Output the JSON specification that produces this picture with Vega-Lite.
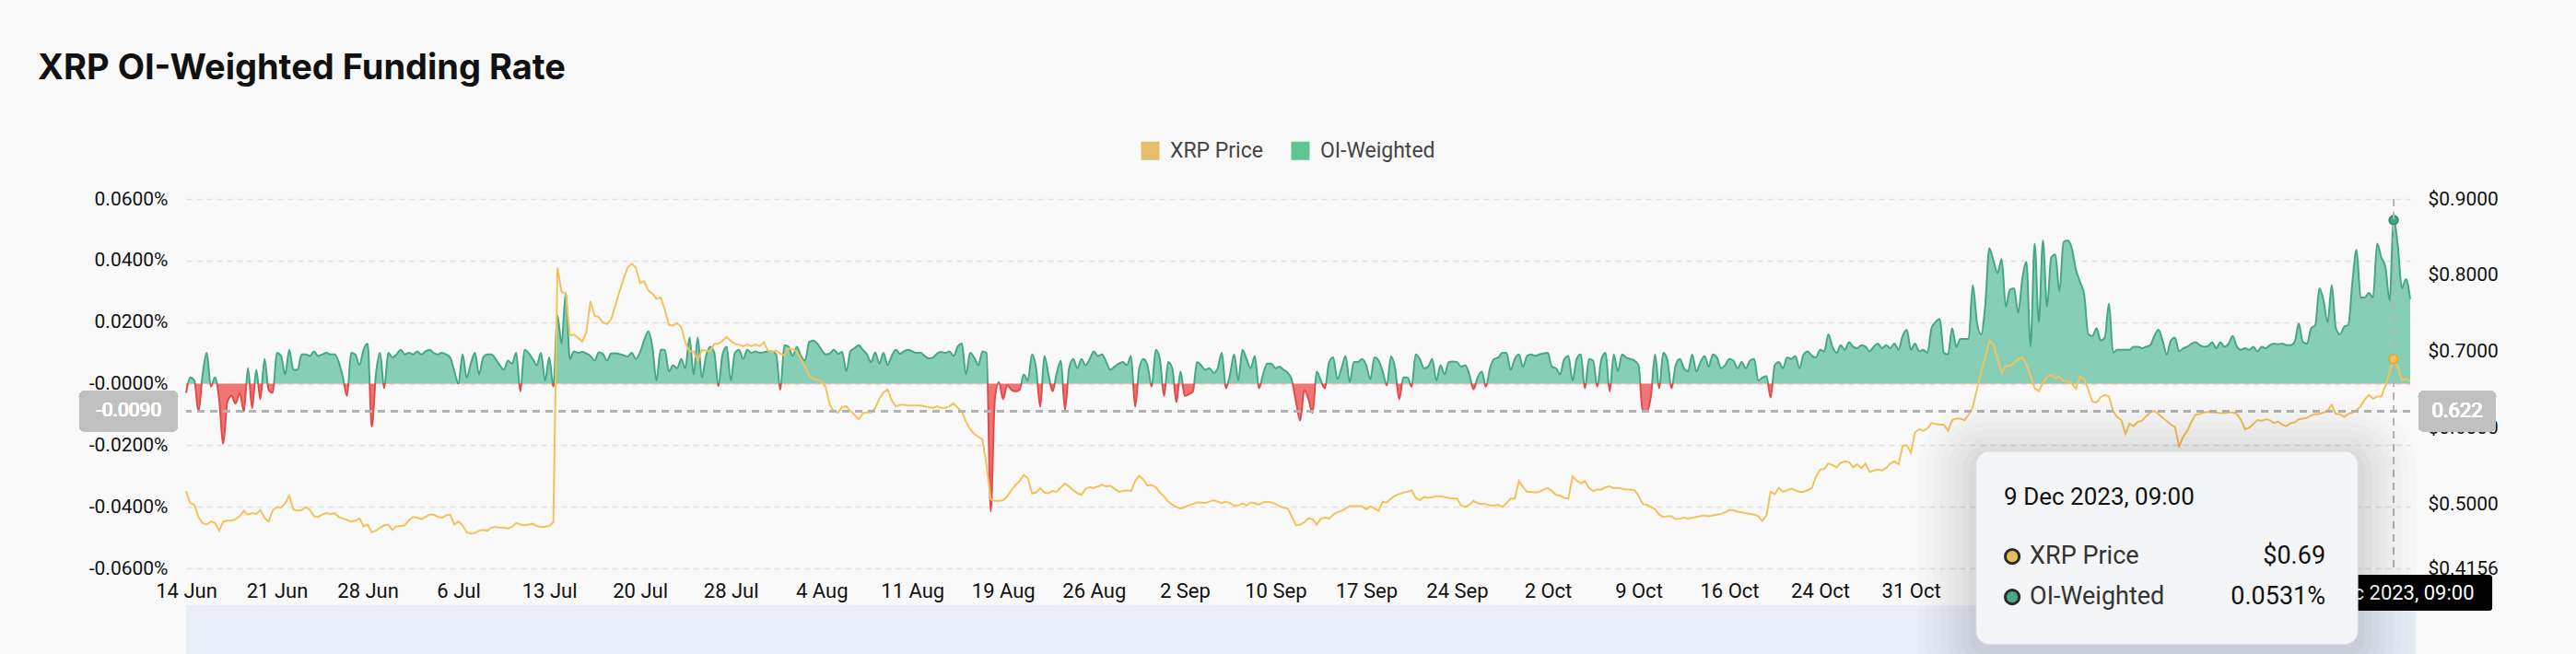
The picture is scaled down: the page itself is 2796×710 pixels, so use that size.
{
  "$schema": "https://vega.github.io/schema/vega-lite/v6.json",
  "width": 2414,
  "height": 401,
  "autosize": {"type": "none"},
  "padding": {"left": 202, "top": 216, "right": 180, "bottom": 93},
  "background": "#f9f9f9",
  "config": {"view": {"stroke": null}, "font": "Roboto"},
  "title": {"text": "XRP OI-Weighted Funding Rate", "anchor": "start", "frame": "group", "dx": -161, "offset": 58, "font": "Inter", "fontSize": 38, "fontWeight": 700, "color": "#111111"},
  "data": {
    "format": {"parse": {"t": "date"}},
    "values": [
      {"t":"2023-06-14T01:00","f":-0.003,"p":0.517},{"t":"2023-06-14T09:00","f":0.002,"p":0.501},{"t":"2023-06-14T17:00","f":0.001,"p":0.499},
      {"t":"2023-06-15T01:00","f":-0.009,"p":0.483},{"t":"2023-06-15T09:00","f":0.003,"p":0.475},{"t":"2023-06-15T17:00","f":0.010,"p":0.473},
      {"t":"2023-06-16T01:00","f":-0.001,"p":0.477},{"t":"2023-06-16T09:00","f":0.002,"p":0.475},{"t":"2023-06-16T17:00","f":-0.005,"p":0.465},
      {"t":"2023-06-17T01:00","f":-0.0195,"p":0.477},{"t":"2023-06-17T09:00","f":-0.006,"p":0.478},{"t":"2023-06-17T17:00","f":-0.004,"p":0.478},
      {"t":"2023-06-18T01:00","f":-0.0065,"p":0.480},{"t":"2023-06-18T09:00","f":-0.003,"p":0.484},{"t":"2023-06-18T17:00","f":-0.009,"p":0.491},
      {"t":"2023-06-19T01:00","f":0.005,"p":0.486},{"t":"2023-06-19T09:00","f":-0.008,"p":0.488},{"t":"2023-06-19T17:00","f":0.0045,"p":0.487},
      {"t":"2023-06-20T01:00","f":-0.005,"p":0.492},{"t":"2023-06-20T09:00","f":0.008,"p":0.482},{"t":"2023-06-20T17:00","f":-0.002,"p":0.477},
      {"t":"2023-06-21T01:00","f":-0.003,"p":0.492},{"t":"2023-06-21T09:00","f":0.010,"p":0.496},{"t":"2023-06-21T17:00","f":0.009,"p":0.495},
      {"t":"2023-06-22T01:00","f":0.003,"p":0.501},{"t":"2023-06-22T09:00","f":0.011,"p":0.511},{"t":"2023-06-22T17:00","f":0.0045,"p":0.493},
      {"t":"2023-06-23T01:00","f":0.0045,"p":0.491},{"t":"2023-06-23T09:00","f":0.0095,"p":0.492},{"t":"2023-06-23T17:00","f":0.0095,"p":0.496},
      {"t":"2023-06-24T01:00","f":0.009,"p":0.492},{"t":"2023-06-24T09:00","f":0.0105,"p":0.484},{"t":"2023-06-24T17:00","f":0.009,"p":0.483},
      {"t":"2023-06-25T01:00","f":0.0095,"p":0.486},{"t":"2023-06-25T09:00","f":0.010,"p":0.488},{"t":"2023-06-25T17:00","f":0.0095,"p":0.487},
      {"t":"2023-06-26T01:00","f":0.0095,"p":0.488},{"t":"2023-06-26T09:00","f":0.007,"p":0.483},{"t":"2023-06-26T17:00","f":0.002,"p":0.481},
      {"t":"2023-06-27T01:00","f":-0.004,"p":0.479},{"t":"2023-06-27T09:00","f":0.010,"p":0.477},{"t":"2023-06-27T17:00","f":0.0095,"p":0.478},
      {"t":"2023-06-28T01:00","f":0.006,"p":0.481},{"t":"2023-06-28T09:00","f":0.011,"p":0.471},{"t":"2023-06-28T17:00","f":0.013,"p":0.473},
      {"t":"2023-06-29T01:00","f":-0.014,"p":0.463},{"t":"2023-06-29T09:00","f":0.003,"p":0.465},{"t":"2023-06-29T17:00","f":0.010,"p":0.469},
      {"t":"2023-06-30T01:00","f":-0.0015,"p":0.472},{"t":"2023-06-30T09:00","f":0.010,"p":0.473},{"t":"2023-06-30T17:00","f":0.0085,"p":0.466},
      {"t":"2023-07-01T01:00","f":0.0095,"p":0.471},{"t":"2023-07-01T09:00","f":0.011,"p":0.471},{"t":"2023-07-01T17:00","f":0.0095,"p":0.472},
      {"t":"2023-07-02T01:00","f":0.010,"p":0.479},{"t":"2023-07-02T09:00","f":0.0095,"p":0.483},{"t":"2023-07-02T17:00","f":0.0105,"p":0.482},
      {"t":"2023-07-03T01:00","f":0.0095,"p":0.480},{"t":"2023-07-03T09:00","f":0.0105,"p":0.483},{"t":"2023-07-03T17:00","f":0.011,"p":0.486},
      {"t":"2023-07-04T01:00","f":0.010,"p":0.486},{"t":"2023-07-04T09:00","f":0.0095,"p":0.483},{"t":"2023-07-04T17:00","f":0.010,"p":0.482},
      {"t":"2023-07-05T01:00","f":0.0095,"p":0.485},{"t":"2023-07-05T09:00","f":0.0085,"p":0.486},{"t":"2023-07-05T17:00","f":0.004,"p":0.473},
      {"t":"2023-07-06T01:00","f":0.0,"p":0.477},{"t":"2023-07-06T09:00","f":0.0095,"p":0.472},{"t":"2023-07-06T17:00","f":0.002,"p":0.463},
      {"t":"2023-07-07T01:00","f":0.0065,"p":0.461},{"t":"2023-07-07T09:00","f":0.010,"p":0.462},{"t":"2023-07-07T17:00","f":0.003,"p":0.465},
      {"t":"2023-07-08T01:00","f":0.0085,"p":0.466},{"t":"2023-07-08T09:00","f":0.0095,"p":0.465},{"t":"2023-07-08T17:00","f":0.0095,"p":0.469},
      {"t":"2023-07-09T01:00","f":0.008,"p":0.470},{"t":"2023-07-09T09:00","f":0.006,"p":0.469},{"t":"2023-07-09T17:00","f":0.0045,"p":0.469},
      {"t":"2023-07-10T01:00","f":0.0075,"p":0.468},{"t":"2023-07-10T09:00","f":0.0065,"p":0.470},{"t":"2023-07-10T17:00","f":0.010,"p":0.475},
      {"t":"2023-07-11T01:00","f":-0.0025,"p":0.473},{"t":"2023-07-11T09:00","f":0.011,"p":0.472},{"t":"2023-07-11T17:00","f":0.010,"p":0.473},
      {"t":"2023-07-12T01:00","f":0.008,"p":0.474},{"t":"2023-07-12T09:00","f":0.006,"p":0.471},{"t":"2023-07-12T17:00","f":0.010,"p":0.470},
      {"t":"2023-07-13T01:00","f":0.001,"p":0.470},{"t":"2023-07-13T09:00","f":0.0085,"p":0.471},{"t":"2023-07-13T17:00","f":-0.001,"p":0.476},
      {"t":"2023-07-14T01:00","f":0.022,"p":0.810},{"t":"2023-07-14T09:00","f":0.013,"p":0.778},{"t":"2023-07-14T17:00","f":0.0295,"p":0.776},
      {"t":"2023-07-15T01:00","f":0.008,"p":0.721},{"t":"2023-07-15T09:00","f":0.0105,"p":0.722},{"t":"2023-07-15T17:00","f":0.010,"p":0.718},
      {"t":"2023-07-16T01:00","f":0.0103,"p":0.713},{"t":"2023-07-16T09:00","f":0.0098,"p":0.725},{"t":"2023-07-16T17:00","f":0.009,"p":0.766},
      {"t":"2023-07-17T01:00","f":0.0075,"p":0.747},{"t":"2023-07-17T09:00","f":0.0102,"p":0.745},{"t":"2023-07-17T17:00","f":0.0097,"p":0.738},
      {"t":"2023-07-18T01:00","f":0.0075,"p":0.736},{"t":"2023-07-18T09:00","f":0.0098,"p":0.742},{"t":"2023-07-18T17:00","f":0.0099,"p":0.760},
      {"t":"2023-07-19T01:00","f":0.0096,"p":0.778},{"t":"2023-07-19T09:00","f":0.0092,"p":0.795},{"t":"2023-07-19T17:00","f":0.0088,"p":0.810},
      {"t":"2023-07-20T01:00","f":0.010,"p":0.815},{"t":"2023-07-20T09:00","f":0.008,"p":0.810},{"t":"2023-07-20T17:00","f":0.0102,"p":0.790},
      {"t":"2023-07-21T01:00","f":0.014,"p":0.792},{"t":"2023-07-21T09:00","f":0.017,"p":0.780},{"t":"2023-07-21T17:00","f":0.012,"p":0.776},
      {"t":"2023-07-22T01:00","f":0.001,"p":0.769},{"t":"2023-07-22T09:00","f":0.011,"p":0.771},{"t":"2023-07-22T17:00","f":0.011,"p":0.755},
      {"t":"2023-07-23T01:00","f":0.004,"p":0.735},{"t":"2023-07-23T09:00","f":0.006,"p":0.734},{"t":"2023-07-23T17:00","f":0.005,"p":0.737},
      {"t":"2023-07-24T01:00","f":0.008,"p":0.732},{"t":"2023-07-24T09:00","f":0.005,"p":0.712},{"t":"2023-07-24T17:00","f":0.015,"p":0.700},
      {"t":"2023-07-25T01:00","f":0.003,"p":0.700},{"t":"2023-07-25T09:00","f":0.015,"p":0.688},{"t":"2023-07-25T17:00","f":0.002,"p":0.702},
      {"t":"2023-07-26T01:00","f":0.009,"p":0.701},{"t":"2023-07-26T09:00","f":0.012,"p":0.700},{"t":"2023-07-26T17:00","f":0.010,"p":0.710},
      {"t":"2023-07-27T01:00","f":-0.0008,"p":0.710},{"t":"2023-07-27T09:00","f":0.0095,"p":0.714},{"t":"2023-07-27T17:00","f":0.012,"p":0.719},
      {"t":"2023-07-28T01:00","f":0.001,"p":0.714},{"t":"2023-07-28T09:00","f":0.010,"p":0.710},{"t":"2023-07-28T17:00","f":0.011,"p":0.709},
      {"t":"2023-07-29T01:00","f":0.008,"p":0.707},{"t":"2023-07-29T09:00","f":0.011,"p":0.709},{"t":"2023-07-29T17:00","f":0.010,"p":0.707},
      {"t":"2023-07-30T01:00","f":0.0105,"p":0.709},{"t":"2023-07-30T09:00","f":0.010,"p":0.707},{"t":"2023-07-30T17:00","f":0.0102,"p":0.712},
      {"t":"2023-07-31T01:00","f":0.0105,"p":0.701},{"t":"2023-07-31T09:00","f":0.0105,"p":0.699},{"t":"2023-07-31T17:00","f":0.0095,"p":0.701},
      {"t":"2023-08-01T01:00","f":-0.002,"p":0.697},{"t":"2023-08-01T09:00","f":0.0125,"p":0.695},{"t":"2023-08-01T17:00","f":0.012,"p":0.704},
      {"t":"2023-08-02T01:00","f":0.009,"p":0.703},{"t":"2023-08-02T09:00","f":0.012,"p":0.700},{"t":"2023-08-02T17:00","f":0.009,"p":0.690},
      {"t":"2023-08-03T01:00","f":0.0075,"p":0.680},{"t":"2023-08-03T09:00","f":0.0135,"p":0.668},{"t":"2023-08-03T17:00","f":0.014,"p":0.664},
      {"t":"2023-08-04T01:00","f":0.013,"p":0.663},{"t":"2023-08-04T09:00","f":0.011,"p":0.661},{"t":"2023-08-04T17:00","f":0.0095,"p":0.653},
      {"t":"2023-08-05T01:00","f":0.0098,"p":0.630},{"t":"2023-08-05T09:00","f":0.011,"p":0.621},{"t":"2023-08-05T17:00","f":0.0097,"p":0.620},
      {"t":"2023-08-06T01:00","f":0.0103,"p":0.627},{"t":"2023-08-06T09:00","f":0.004,"p":0.628},{"t":"2023-08-06T17:00","f":0.0105,"p":0.622},
      {"t":"2023-08-07T01:00","f":0.0115,"p":0.617},{"t":"2023-08-07T09:00","f":0.0125,"p":0.611},{"t":"2023-08-07T17:00","f":0.011,"p":0.619},
      {"t":"2023-08-08T01:00","f":0.0095,"p":0.620},{"t":"2023-08-08T09:00","f":0.007,"p":0.620},{"t":"2023-08-08T17:00","f":0.0102,"p":0.626},
      {"t":"2023-08-09T01:00","f":0.0065,"p":0.638},{"t":"2023-08-09T09:00","f":0.010,"p":0.646},{"t":"2023-08-09T17:00","f":0.006,"p":0.650},
      {"t":"2023-08-10T01:00","f":0.009,"p":0.636},{"t":"2023-08-10T09:00","f":0.011,"p":0.628},{"t":"2023-08-10T17:00","f":0.0097,"p":0.630},
      {"t":"2023-08-11T01:00","f":0.0105,"p":0.630},{"t":"2023-08-11T09:00","f":0.011,"p":0.629},{"t":"2023-08-11T17:00","f":0.0105,"p":0.629},
      {"t":"2023-08-12T01:00","f":0.010,"p":0.629},{"t":"2023-08-12T09:00","f":0.010,"p":0.629},{"t":"2023-08-12T17:00","f":0.009,"p":0.628},
      {"t":"2023-08-13T01:00","f":0.0082,"p":0.627},{"t":"2023-08-13T09:00","f":0.0085,"p":0.626},{"t":"2023-08-13T17:00","f":0.0098,"p":0.628},
      {"t":"2023-08-14T01:00","f":0.0103,"p":0.626},{"t":"2023-08-14T09:00","f":0.010,"p":0.626},{"t":"2023-08-14T17:00","f":0.0105,"p":0.628},
      {"t":"2023-08-15T01:00","f":0.009,"p":0.632},{"t":"2023-08-15T09:00","f":0.012,"p":0.626},{"t":"2023-08-15T17:00","f":0.013,"p":0.621},
      {"t":"2023-08-16T01:00","f":0.003,"p":0.608},{"t":"2023-08-16T09:00","f":0.010,"p":0.598},{"t":"2023-08-16T17:00","f":0.0085,"p":0.592},
      {"t":"2023-08-17T01:00","f":0.006,"p":0.588},{"t":"2023-08-17T09:00","f":0.0105,"p":0.585},{"t":"2023-08-17T17:00","f":0.010,"p":0.550},
      {"t":"2023-08-18T01:00","f":-0.0415,"p":0.506},{"t":"2023-08-18T09:00","f":-0.005,"p":0.504},{"t":"2023-08-18T17:00","f":0.0005,"p":0.504},
      {"t":"2023-08-19T01:00","f":-0.005,"p":0.505},{"t":"2023-08-19T09:00","f":-0.0005,"p":0.510},{"t":"2023-08-19T17:00","f":-0.002,"p":0.518},
      {"t":"2023-08-20T01:00","f":-0.0025,"p":0.525},{"t":"2023-08-20T09:00","f":-0.002,"p":0.530},{"t":"2023-08-20T17:00","f":0.003,"p":0.538},
      {"t":"2023-08-21T01:00","f":0.001,"p":0.534},{"t":"2023-08-21T09:00","f":0.0095,"p":0.514},{"t":"2023-08-21T17:00","f":0.005,"p":0.515},
      {"t":"2023-08-22T01:00","f":-0.0075,"p":0.521},{"t":"2023-08-22T09:00","f":0.009,"p":0.515},{"t":"2023-08-22T17:00","f":0.003,"p":0.514},
      {"t":"2023-08-23T01:00","f":-0.0025,"p":0.517},{"t":"2023-08-23T09:00","f":0.0035,"p":0.516},{"t":"2023-08-23T17:00","f":0.0075,"p":0.522},
      {"t":"2023-08-24T01:00","f":-0.0085,"p":0.527},{"t":"2023-08-24T09:00","f":0.005,"p":0.523},{"t":"2023-08-24T17:00","f":0.008,"p":0.518},
      {"t":"2023-08-25T01:00","f":0.005,"p":0.514},{"t":"2023-08-25T09:00","f":0.008,"p":0.512},{"t":"2023-08-25T17:00","f":0.006,"p":0.520},
      {"t":"2023-08-26T01:00","f":0.008,"p":0.522},{"t":"2023-08-26T09:00","f":0.0105,"p":0.521},{"t":"2023-08-26T17:00","f":0.009,"p":0.523},
      {"t":"2023-08-27T01:00","f":0.0095,"p":0.525},{"t":"2023-08-27T09:00","f":0.007,"p":0.523},{"t":"2023-08-27T17:00","f":0.0045,"p":0.524},
      {"t":"2023-08-28T01:00","f":0.0055,"p":0.520},{"t":"2023-08-28T09:00","f":0.0065,"p":0.516},{"t":"2023-08-28T17:00","f":0.007,"p":0.517},
      {"t":"2023-08-29T01:00","f":0.006,"p":0.518},{"t":"2023-08-29T09:00","f":0.009,"p":0.517},{"t":"2023-08-29T17:00","f":-0.0075,"p":0.530},
      {"t":"2023-08-30T01:00","f":0.005,"p":0.537},{"t":"2023-08-30T09:00","f":0.008,"p":0.532},{"t":"2023-08-30T17:00","f":0.006,"p":0.524},
      {"t":"2023-08-31T01:00","f":-0.001,"p":0.525},{"t":"2023-08-31T09:00","f":0.011,"p":0.522},{"t":"2023-08-31T17:00","f":0.008,"p":0.515},
      {"t":"2023-09-01T01:00","f":-0.004,"p":0.510},{"t":"2023-09-01T09:00","f":0.007,"p":0.503},{"t":"2023-09-01T17:00","f":0.005,"p":0.499},
      {"t":"2023-09-02T01:00","f":-0.006,"p":0.496},{"t":"2023-09-02T09:00","f":0.004,"p":0.494},{"t":"2023-09-02T17:00","f":-0.004,"p":0.496},
      {"t":"2023-09-03T01:00","f":-0.0035,"p":0.498},{"t":"2023-09-03T09:00","f":-0.0025,"p":0.500},{"t":"2023-09-03T17:00","f":0.007,"p":0.502},
      {"t":"2023-09-04T01:00","f":0.006,"p":0.502},{"t":"2023-09-04T09:00","f":0.0045,"p":0.501},{"t":"2023-09-04T17:00","f":0.005,"p":0.503},
      {"t":"2023-09-05T01:00","f":0.0035,"p":0.505},{"t":"2023-09-05T09:00","f":0.005,"p":0.503},{"t":"2023-09-05T17:00","f":0.010,"p":0.501},
      {"t":"2023-09-06T01:00","f":-0.0015,"p":0.503},{"t":"2023-09-06T09:00","f":0.003,"p":0.501},{"t":"2023-09-06T17:00","f":0.0095,"p":0.498},
      {"t":"2023-09-07T01:00","f":0.001,"p":0.498},{"t":"2023-09-07T09:00","f":0.011,"p":0.501},{"t":"2023-09-07T17:00","f":0.008,"p":0.498},
      {"t":"2023-09-08T01:00","f":0.005,"p":0.502},{"t":"2023-09-08T09:00","f":0.009,"p":0.501},{"t":"2023-09-08T17:00","f":-0.0015,"p":0.499},
      {"t":"2023-09-09T01:00","f":0.003,"p":0.502},{"t":"2023-09-09T09:00","f":0.0065,"p":0.503},{"t":"2023-09-09T17:00","f":0.0065,"p":0.502},
      {"t":"2023-09-10T01:00","f":0.005,"p":0.500},{"t":"2023-09-10T09:00","f":0.0055,"p":0.497},{"t":"2023-09-10T17:00","f":0.0045,"p":0.495},
      {"t":"2023-09-11T01:00","f":0.0035,"p":0.494},{"t":"2023-09-11T09:00","f":0.001,"p":0.483},{"t":"2023-09-11T17:00","f":-0.006,"p":0.472},
      {"t":"2023-09-12T01:00","f":-0.012,"p":0.473},{"t":"2023-09-12T09:00","f":-0.002,"p":0.476},{"t":"2023-09-12T17:00","f":-0.005,"p":0.481},
      {"t":"2023-09-13T01:00","f":-0.0095,"p":0.480},{"t":"2023-09-13T09:00","f":0.004,"p":0.473},{"t":"2023-09-13T17:00","f":0.001,"p":0.481},
      {"t":"2023-09-14T01:00","f":-0.0015,"p":0.482},{"t":"2023-09-14T09:00","f":0.007,"p":0.481},{"t":"2023-09-14T17:00","f":0.0085,"p":0.486},
      {"t":"2023-09-15T01:00","f":0.0015,"p":0.489},{"t":"2023-09-15T09:00","f":0.005,"p":0.491},{"t":"2023-09-15T17:00","f":0.009,"p":0.494},
      {"t":"2023-09-16T01:00","f":0.0005,"p":0.497},{"t":"2023-09-16T09:00","f":0.007,"p":0.497},{"t":"2023-09-16T17:00","f":0.007,"p":0.497},
      {"t":"2023-09-17T01:00","f":0.008,"p":0.497},{"t":"2023-09-17T09:00","f":0.006,"p":0.493},{"t":"2023-09-17T17:00","f":0.0015,"p":0.497},
      {"t":"2023-09-18T01:00","f":0.0085,"p":0.494},{"t":"2023-09-18T09:00","f":0.0075,"p":0.491},{"t":"2023-09-18T17:00","f":0.004,"p":0.503},
      {"t":"2023-09-19T01:00","f":-0.0005,"p":0.502},{"t":"2023-09-19T09:00","f":0.0088,"p":0.507},{"t":"2023-09-19T17:00","f":0.005,"p":0.511},
      {"t":"2023-09-20T01:00","f":-0.005,"p":0.513},{"t":"2023-09-20T09:00","f":0.002,"p":0.515},{"t":"2023-09-20T17:00","f":0.002,"p":0.516},
      {"t":"2023-09-21T01:00","f":-0.001,"p":0.518},{"t":"2023-09-21T09:00","f":0.0095,"p":0.508},{"t":"2023-09-21T17:00","f":0.008,"p":0.505},
      {"t":"2023-09-22T01:00","f":0.005,"p":0.509},{"t":"2023-09-22T09:00","f":0.0055,"p":0.508},{"t":"2023-09-22T17:00","f":0.008,"p":0.509},
      {"t":"2023-09-23T01:00","f":0.001,"p":0.510},{"t":"2023-09-23T09:00","f":0.006,"p":0.510},{"t":"2023-09-23T17:00","f":0.003,"p":0.509},
      {"t":"2023-09-24T01:00","f":0.007,"p":0.508},{"t":"2023-09-24T09:00","f":0.0072,"p":0.507},{"t":"2023-09-24T17:00","f":0.007,"p":0.507},
      {"t":"2023-09-25T01:00","f":0.0055,"p":0.498},{"t":"2023-09-25T09:00","f":0.006,"p":0.496},{"t":"2023-09-25T17:00","f":0.003,"p":0.499},
      {"t":"2023-09-26T01:00","f":-0.0018,"p":0.504},{"t":"2023-09-26T09:00","f":0.002,"p":0.501},{"t":"2023-09-26T17:00","f":0.004,"p":0.500},
      {"t":"2023-09-27T01:00","f":-0.001,"p":0.500},{"t":"2023-09-27T09:00","f":0.005,"p":0.498},{"t":"2023-09-27T17:00","f":0.008,"p":0.498},
      {"t":"2023-09-28T01:00","f":0.0085,"p":0.499},{"t":"2023-09-28T09:00","f":0.010,"p":0.496},{"t":"2023-09-28T17:00","f":0.010,"p":0.501},
      {"t":"2023-09-29T01:00","f":0.0045,"p":0.507},{"t":"2023-09-29T09:00","f":0.008,"p":0.507},{"t":"2023-09-29T17:00","f":0.0095,"p":0.530},
      {"t":"2023-09-30T01:00","f":0.0055,"p":0.522},{"t":"2023-09-30T09:00","f":0.009,"p":0.516},{"t":"2023-09-30T17:00","f":0.0095,"p":0.516},
      {"t":"2023-10-01T01:00","f":0.009,"p":0.515},{"t":"2023-10-01T09:00","f":0.0095,"p":0.516},{"t":"2023-10-01T17:00","f":0.0098,"p":0.519},
      {"t":"2023-10-02T01:00","f":0.010,"p":0.521},{"t":"2023-10-02T09:00","f":0.0055,"p":0.517},{"t":"2023-10-02T17:00","f":0.005,"p":0.512},
      {"t":"2023-10-03T01:00","f":0.003,"p":0.511},{"t":"2023-10-03T09:00","f":0.008,"p":0.508},{"t":"2023-10-03T17:00","f":0.009,"p":0.507},
      {"t":"2023-10-04T01:00","f":0.001,"p":0.536},{"t":"2023-10-04T09:00","f":0.008,"p":0.531},{"t":"2023-10-04T17:00","f":0.0095,"p":0.527},
      {"t":"2023-10-05T01:00","f":-0.0015,"p":0.530},{"t":"2023-10-05T09:00","f":0.008,"p":0.521},{"t":"2023-10-05T17:00","f":0.0075,"p":0.517},
      {"t":"2023-10-06T01:00","f":-0.001,"p":0.519},{"t":"2023-10-06T09:00","f":0.008,"p":0.519},{"t":"2023-10-06T17:00","f":0.010,"p":0.522},
      {"t":"2023-10-07T01:00","f":-0.0025,"p":0.523},{"t":"2023-10-07T09:00","f":0.0095,"p":0.521},{"t":"2023-10-07T17:00","f":0.004,"p":0.521},
      {"t":"2023-10-08T01:00","f":0.0095,"p":0.520},{"t":"2023-10-08T09:00","f":0.0085,"p":0.519},{"t":"2023-10-08T17:00","f":0.008,"p":0.519},
      {"t":"2023-10-09T01:00","f":0.0075,"p":0.518},{"t":"2023-10-09T09:00","f":0.006,"p":0.511},{"t":"2023-10-09T17:00","f":-0.009,"p":0.500},
      {"t":"2023-10-10T01:00","f":-0.009,"p":0.499},{"t":"2023-10-10T09:00","f":-0.004,"p":0.496},{"t":"2023-10-10T17:00","f":0.0095,"p":0.493},
      {"t":"2023-10-11T01:00","f":-0.0015,"p":0.486},{"t":"2023-10-11T09:00","f":0.010,"p":0.483},{"t":"2023-10-11T17:00","f":0.0075,"p":0.484},
      {"t":"2023-10-12T01:00","f":-0.0015,"p":0.484},{"t":"2023-10-12T09:00","f":0.006,"p":0.480},{"t":"2023-10-12T17:00","f":0.008,"p":0.481},
      {"t":"2023-10-13T01:00","f":0.005,"p":0.482},{"t":"2023-10-13T09:00","f":0.004,"p":0.481},{"t":"2023-10-13T17:00","f":0.0095,"p":0.482},
      {"t":"2023-10-14T01:00","f":0.004,"p":0.483},{"t":"2023-10-14T09:00","f":0.007,"p":0.484},{"t":"2023-10-14T17:00","f":0.009,"p":0.485},
      {"t":"2023-10-15T01:00","f":0.0055,"p":0.484},{"t":"2023-10-15T09:00","f":0.0095,"p":0.485},{"t":"2023-10-15T17:00","f":0.0085,"p":0.486},
      {"t":"2023-10-16T01:00","f":0.005,"p":0.487},{"t":"2023-10-16T09:00","f":0.006,"p":0.489},{"t":"2023-10-16T17:00","f":0.008,"p":0.492},
      {"t":"2023-10-17T01:00","f":0.0075,"p":0.492},{"t":"2023-10-17T09:00","f":0.005,"p":0.490},{"t":"2023-10-17T17:00","f":0.007,"p":0.489},
      {"t":"2023-10-18T01:00","f":0.005,"p":0.488},{"t":"2023-10-18T09:00","f":0.0075,"p":0.487},{"t":"2023-10-18T17:00","f":0.008,"p":0.486},
      {"t":"2023-10-19T01:00","f":0.001,"p":0.484},{"t":"2023-10-19T09:00","f":0.002,"p":0.478},{"t":"2023-10-19T17:00","f":0.0025,"p":0.485},
      {"t":"2023-10-20T01:00","f":-0.0045,"p":0.516},{"t":"2023-10-20T09:00","f":0.006,"p":0.513},{"t":"2023-10-20T17:00","f":0.007,"p":0.521},
      {"t":"2023-10-21T01:00","f":0.005,"p":0.516},{"t":"2023-10-21T09:00","f":0.0085,"p":0.518},{"t":"2023-10-21T17:00","f":0.008,"p":0.520},
      {"t":"2023-10-22T01:00","f":0.009,"p":0.518},{"t":"2023-10-22T09:00","f":0.005,"p":0.516},{"t":"2023-10-22T17:00","f":0.0095,"p":0.516},
      {"t":"2023-10-23T01:00","f":0.0105,"p":0.518},{"t":"2023-10-23T09:00","f":0.009,"p":0.521},{"t":"2023-10-23T17:00","f":0.0085,"p":0.536},
      {"t":"2023-10-24T01:00","f":0.011,"p":0.545},{"t":"2023-10-24T09:00","f":0.0105,"p":0.546},{"t":"2023-10-24T17:00","f":0.016,"p":0.553},
      {"t":"2023-10-25T01:00","f":0.012,"p":0.551},{"t":"2023-10-25T09:00","f":0.010,"p":0.548},{"t":"2023-10-25T17:00","f":0.0125,"p":0.554},
      {"t":"2023-10-26T01:00","f":0.011,"p":0.556},{"t":"2023-10-26T09:00","f":0.0135,"p":0.555},{"t":"2023-10-26T17:00","f":0.012,"p":0.548},
      {"t":"2023-10-27T01:00","f":0.0115,"p":0.552},{"t":"2023-10-27T09:00","f":0.0125,"p":0.547},{"t":"2023-10-27T17:00","f":0.012,"p":0.553},
      {"t":"2023-10-28T01:00","f":0.0105,"p":0.542},{"t":"2023-10-28T09:00","f":0.012,"p":0.544},{"t":"2023-10-28T17:00","f":0.013,"p":0.545},
      {"t":"2023-10-29T01:00","f":0.0115,"p":0.544},{"t":"2023-10-29T09:00","f":0.0125,"p":0.547},{"t":"2023-10-29T17:00","f":0.0115,"p":0.553},
      {"t":"2023-10-30T01:00","f":0.013,"p":0.556},{"t":"2023-10-30T09:00","f":0.011,"p":0.552},{"t":"2023-10-30T17:00","f":0.0155,"p":0.576},
      {"t":"2023-10-31T01:00","f":0.0175,"p":0.577},{"t":"2023-10-31T09:00","f":0.011,"p":0.567},{"t":"2023-10-31T17:00","f":0.013,"p":0.594},
      {"t":"2023-11-01T01:00","f":0.0105,"p":0.598},{"t":"2023-11-01T09:00","f":0.011,"p":0.596},{"t":"2023-11-01T17:00","f":0.010,"p":0.599},
      {"t":"2023-11-02T01:00","f":0.018,"p":0.606},{"t":"2023-11-02T09:00","f":0.020,"p":0.605},{"t":"2023-11-02T17:00","f":0.021,"p":0.604},
      {"t":"2023-11-03T01:00","f":0.010,"p":0.604},{"t":"2023-11-03T09:00","f":0.0095,"p":0.596},{"t":"2023-11-03T17:00","f":0.018,"p":0.610},
      {"t":"2023-11-04T01:00","f":0.012,"p":0.612},{"t":"2023-11-04T09:00","f":0.0145,"p":0.612},{"t":"2023-11-04T17:00","f":0.0145,"p":0.610},
      {"t":"2023-11-05T01:00","f":0.0145,"p":0.617},{"t":"2023-11-05T09:00","f":0.032,"p":0.627},{"t":"2023-11-05T17:00","f":0.020,"p":0.650},
      {"t":"2023-11-06T01:00","f":0.016,"p":0.672},{"t":"2023-11-06T09:00","f":0.025,"p":0.692},{"t":"2023-11-06T17:00","f":0.044,"p":0.714},
      {"t":"2023-11-07T01:00","f":0.040,"p":0.710},{"t":"2023-11-07T09:00","f":0.036,"p":0.690},{"t":"2023-11-07T17:00","f":0.0405,"p":0.672},
      {"t":"2023-11-08T01:00","f":0.025,"p":0.681},{"t":"2023-11-08T09:00","f":0.0305,"p":0.681},{"t":"2023-11-08T17:00","f":0.031,"p":0.685},
      {"t":"2023-11-09T01:00","f":0.023,"p":0.690},{"t":"2023-11-09T09:00","f":0.034,"p":0.692},{"t":"2023-11-09T17:00","f":0.0395,"p":0.683},
      {"t":"2023-11-10T01:00","f":0.012,"p":0.668},{"t":"2023-11-10T09:00","f":0.0455,"p":0.652},{"t":"2023-11-10T17:00","f":0.020,"p":0.648},
      {"t":"2023-11-11T01:00","f":0.0465,"p":0.659},{"t":"2023-11-11T09:00","f":0.025,"p":0.667},{"t":"2023-11-11T17:00","f":0.041,"p":0.669},
      {"t":"2023-11-12T01:00","f":0.042,"p":0.665},{"t":"2023-11-12T09:00","f":0.030,"p":0.667},{"t":"2023-11-12T17:00","f":0.046,"p":0.661},
      {"t":"2023-11-13T01:00","f":0.0465,"p":0.661},{"t":"2023-11-13T09:00","f":0.044,"p":0.658},{"t":"2023-11-13T17:00","f":0.037,"p":0.651},
      {"t":"2023-11-14T01:00","f":0.033,"p":0.667},{"t":"2023-11-14T09:00","f":0.029,"p":0.664},{"t":"2023-11-14T17:00","f":0.016,"p":0.650},
      {"t":"2023-11-15T01:00","f":0.0155,"p":0.634},{"t":"2023-11-15T09:00","f":0.018,"p":0.633},{"t":"2023-11-15T17:00","f":0.014,"p":0.640},
      {"t":"2023-11-16T01:00","f":0.015,"p":0.643},{"t":"2023-11-16T09:00","f":0.026,"p":0.641},{"t":"2023-11-16T17:00","f":0.010,"p":0.622},
      {"t":"2023-11-17T01:00","f":0.011,"p":0.614},{"t":"2023-11-17T09:00","f":0.011,"p":0.610},{"t":"2023-11-17T17:00","f":0.011,"p":0.592},
      {"t":"2023-11-18T01:00","f":0.011,"p":0.605},{"t":"2023-11-18T09:00","f":0.012,"p":0.602},{"t":"2023-11-18T17:00","f":0.012,"p":0.608},
      {"t":"2023-11-19T01:00","f":0.0115,"p":0.609},{"t":"2023-11-19T09:00","f":0.012,"p":0.615},{"t":"2023-11-19T17:00","f":0.0125,"p":0.620},
      {"t":"2023-11-20T01:00","f":0.0155,"p":0.622},{"t":"2023-11-20T09:00","f":0.0175,"p":0.618},{"t":"2023-11-20T17:00","f":0.014,"p":0.613},
      {"t":"2023-11-21T01:00","f":0.0095,"p":0.609},{"t":"2023-11-21T09:00","f":0.014,"p":0.604},{"t":"2023-11-21T17:00","f":0.015,"p":0.601},
      {"t":"2023-11-22T01:00","f":0.0105,"p":0.576},{"t":"2023-11-22T09:00","f":0.0115,"p":0.588},{"t":"2023-11-22T17:00","f":0.012,"p":0.596},
      {"t":"2023-11-23T01:00","f":0.013,"p":0.608},{"t":"2023-11-23T09:00","f":0.0135,"p":0.617},{"t":"2023-11-23T17:00","f":0.0125,"p":0.618},
      {"t":"2023-11-24T01:00","f":0.012,"p":0.620},{"t":"2023-11-24T09:00","f":0.0122,"p":0.621},{"t":"2023-11-24T17:00","f":0.0135,"p":0.620},
      {"t":"2023-11-25T01:00","f":0.0115,"p":0.620},{"t":"2023-11-25T09:00","f":0.0135,"p":0.619},{"t":"2023-11-25T17:00","f":0.012,"p":0.619},
      {"t":"2023-11-26T01:00","f":0.013,"p":0.620},{"t":"2023-11-26T09:00","f":0.0155,"p":0.620},{"t":"2023-11-26T17:00","f":0.012,"p":0.618},
      {"t":"2023-11-27T01:00","f":0.011,"p":0.610},{"t":"2023-11-27T09:00","f":0.0115,"p":0.598},{"t":"2023-11-27T17:00","f":0.011,"p":0.600},
      {"t":"2023-11-28T01:00","f":0.012,"p":0.605},{"t":"2023-11-28T09:00","f":0.0105,"p":0.610},{"t":"2023-11-28T17:00","f":0.012,"p":0.609},
      {"t":"2023-11-29T01:00","f":0.0115,"p":0.611},{"t":"2023-11-29T09:00","f":0.0125,"p":0.610},{"t":"2023-11-29T17:00","f":0.013,"p":0.606},
      {"t":"2023-11-30T01:00","f":0.0128,"p":0.608},{"t":"2023-11-30T09:00","f":0.013,"p":0.604},{"t":"2023-11-30T17:00","f":0.0125,"p":0.602},
      {"t":"2023-12-01T01:00","f":0.0125,"p":0.606},{"t":"2023-12-01T09:00","f":0.0135,"p":0.607},{"t":"2023-12-01T17:00","f":0.0195,"p":0.611},
      {"t":"2023-12-02T01:00","f":0.0135,"p":0.612},{"t":"2023-12-02T09:00","f":0.013,"p":0.613},{"t":"2023-12-02T17:00","f":0.018,"p":0.616},
      {"t":"2023-12-03T01:00","f":0.019,"p":0.618},{"t":"2023-12-03T09:00","f":0.031,"p":0.618},{"t":"2023-12-03T17:00","f":0.027,"p":0.620},
      {"t":"2023-12-04T01:00","f":0.020,"p":0.622},{"t":"2023-12-04T09:00","f":0.032,"p":0.630},{"t":"2023-12-04T17:00","f":0.018,"p":0.618},
      {"t":"2023-12-05T01:00","f":0.016,"p":0.618},{"t":"2023-12-05T09:00","f":0.0185,"p":0.614},{"t":"2023-12-05T17:00","f":0.019,"p":0.618},
      {"t":"2023-12-06T01:00","f":0.033,"p":0.620},{"t":"2023-12-06T09:00","f":0.0435,"p":0.623},{"t":"2023-12-06T17:00","f":0.028,"p":0.628},
      {"t":"2023-12-07T01:00","f":0.028,"p":0.637},{"t":"2023-12-07T09:00","f":0.0295,"p":0.643},{"t":"2023-12-07T17:00","f":0.028,"p":0.638},
      {"t":"2023-12-08T01:00","f":0.0455,"p":0.641},{"t":"2023-12-08T09:00","f":0.041,"p":0.641},{"t":"2023-12-08T17:00","f":0.038,"p":0.655},
      {"t":"2023-12-09T01:00","f":0.027,"p":0.673},{"t":"2023-12-09T09:00","f":0.0531,"p":0.69},{"t":"2023-12-09T17:00","f":0.045,"p":0.680},
      {"t":"2023-12-10T01:00","f":0.031,"p":0.662},{"t":"2023-12-10T09:00","f":0.034,"p":0.664},{"t":"2023-12-10T17:00","f":0.0275,"p":0.661}
    ]
  },
  "layer": [
    {
      "layer": [
        {
          "mark": {
            "type": "area", "interpolate": "monotone", "opacity": 1,
            "fill": {"gradient": "linear", "x1": 0, "y1": 0, "x2": 0, "y2": 1,
              "stops": [{"offset": 0, "color": "#86cfb6"}, {"offset": 0.5613, "color": "#86cfb6"}, {"offset": 0.5613, "color": "#f07676"}, {"offset": 1, "color": "#f07676"}]}
          },
          "encoding": {
            "x": {
              "field": "t", "type": "temporal",
              "scale": {"domain": [{"year": 2023, "month": 6, "date": 14, "hours": 1}, {"year": 2023, "month": 12, "date": 10, "hours": 17}]},
              "axis": {
                "title": null, "format": "%-d %b", "grid": false, "domain": false, "ticks": false,
                "labelFont": "Roboto", "labelFontSize": 22, "labelColor": "#111111", "labelPadding": 14,
                "labelFlush": false, "labelOverlap": false, "labelBound": false, "zindex": 0,
                "values": [
                  {"year": 2023, "month": 6, "date": 14, "hours": 1}, {"year": 2023, "month": 6, "date": 21, "hours": 9},
                  {"year": 2023, "month": 6, "date": 28, "hours": 17}, {"year": 2023, "month": 7, "date": 6, "hours": 1},
                  {"year": 2023, "month": 7, "date": 13, "hours": 9}, {"year": 2023, "month": 7, "date": 20, "hours": 17},
                  {"year": 2023, "month": 7, "date": 28, "hours": 1}, {"year": 2023, "month": 8, "date": 4, "hours": 9},
                  {"year": 2023, "month": 8, "date": 11, "hours": 17}, {"year": 2023, "month": 8, "date": 19, "hours": 1},
                  {"year": 2023, "month": 8, "date": 26, "hours": 9}, {"year": 2023, "month": 9, "date": 2, "hours": 17},
                  {"year": 2023, "month": 9, "date": 10, "hours": 1}, {"year": 2023, "month": 9, "date": 17, "hours": 9},
                  {"year": 2023, "month": 9, "date": 24, "hours": 17}, {"year": 2023, "month": 10, "date": 2, "hours": 1},
                  {"year": 2023, "month": 10, "date": 9, "hours": 9}, {"year": 2023, "month": 10, "date": 16, "hours": 17},
                  {"year": 2023, "month": 10, "date": 24, "hours": 1}, {"year": 2023, "month": 10, "date": 31, "hours": 9}
                ]
              }
            },
            "y": {
              "field": "f", "type": "quantitative",
              "scale": {"domain": [-0.06, 0.06], "nice": false, "zero": false},
              "axis": {
                "title": null, "orient": "left", "values": [-0.06, -0.04, -0.02, 0, 0.02, 0.04, 0.06],
                "labelExpr": "(datum.value <= 0 ? '-' : '') + format(abs(datum.value), '.4f') + '%'",
                "grid": true, "gridDash": [6, 5], "gridColor": "#e2e2e2", "gridWidth": 1.5,
                "domain": false, "ticks": false, "labelFont": "Roboto", "labelFontSize": 21,
                "labelColor": "#111111", "labelPadding": 20, "zindex": 0
              }
            },
            "y2": {"datum": 0}
          }
        },
        {
          "mark": {
            "type": "line", "interpolate": "monotone", "strokeWidth": 2,
            "stroke": {"gradient": "linear", "x1": 0, "y1": 0, "x2": 0, "y2": 1,
              "stops": [{"offset": 0, "color": "#44a786"}, {"offset": 0.5613, "color": "#44a786"}, {"offset": 0.5613, "color": "#e34a4a"}, {"offset": 1, "color": "#e34a4a"}]}
          },
          "encoding": {
            "x": {"field": "t", "type": "temporal"},
            "y": {"field": "f", "type": "quantitative"}
          }
        },
        {
          "transform": [{"filter": "false"}],
          "mark": {"type": "square", "filled": true, "opacity": 1},
          "encoding": {
            "x": {"field": "t", "type": "temporal"},
            "y": {"field": "f", "type": "quantitative"},
            "color": {
              "datum": "XRP Price", "type": "nominal",
              "scale": {"domain": ["XRP Price", "OI-Weighted"], "range": ["#e6be6a", "#5fc692"]},
              "legend": {
                "orient": "none", "legendX": 1035, "legendY": -64, "direction": "horizontal", "title": null,
                "symbolType": "square", "symbolSize": 400, "symbolStrokeWidth": 0, "symbolOpacity": 1,
                "labelFont": "Roboto", "labelFontSize": 23, "labelColor": "#444444", "labelOffset": 10, "columnPadding": 29
              }
            }
          }
        },
        {
          "transform": [{"filter": {"field": "t", "equal": {"year": 2023, "month": 12, "date": 9, "hours": 9}}}],
          "mark": {"type": "circle", "size": 90, "fill": "#44a786", "stroke": "#2f8c6d", "strokeWidth": 2, "opacity": 1},
          "encoding": {
            "x": {"field": "t", "type": "temporal"},
            "y": {"field": "f", "type": "quantitative"}
          }
        }
      ]
    },
    {
      "layer": [
        {
          "mark": {"type": "line", "color": "#f4c25b", "strokeWidth": 2},
          "encoding": {
            "x": {"field": "t", "type": "temporal"},
            "y": {
              "field": "p", "type": "quantitative",
              "scale": {"domain": [0.4156, 0.9], "nice": false, "zero": false},
              "axis": {
                "title": null, "orient": "right", "values": [0.4156, 0.5, 0.6, 0.7, 0.8, 0.9], "format": "$.4f",
                "grid": false, "domain": false, "ticks": false, "labelFont": "Roboto", "labelFontSize": 21,
                "labelColor": "#111111", "labelPadding": 19, "zindex": 0
              }
            }
          }
        },
        {
          "mark": {"type": "rule", "color": "#b3b3b3", "strokeDash": [8, 6], "strokeWidth": 2},
          "encoding": {"y": {"datum": 0.622}}
        },
        {
          "transform": [{"filter": {"field": "t", "equal": {"year": 2023, "month": 12, "date": 9, "hours": 9}}}],
          "mark": {"type": "rule", "color": "#b3b3b3", "strokeDash": [8, 6], "strokeWidth": 2},
          "encoding": {"x": {"field": "t", "type": "temporal"}}
        },
        {
          "transform": [{"filter": {"field": "t", "equal": {"year": 2023, "month": 12, "date": 9, "hours": 9}}}],
          "mark": {"type": "circle", "size": 90, "fill": "#f4c25b", "stroke": "#e0a93a", "strokeWidth": 2, "opacity": 1},
          "encoding": {
            "x": {"field": "t", "type": "temporal"},
            "y": {"field": "p", "type": "quantitative"}
          }
        },
        {
          "mark": {"type": "rect", "fill": "#c0c0c0", "cornerRadius": 6, "xOffset": -116, "x2Offset": -9, "yOffset": -22, "y2Offset": 22},
          "encoding": {
            "x": {"datum": {"year": 2023, "month": 6, "date": 14, "hours": 1}},
            "x2": {"datum": {"year": 2023, "month": 6, "date": 14, "hours": 1}},
            "y": {"datum": 0.622}, "y2": {"datum": 0.622}
          }
        },
        {
          "mark": {"type": "text", "text": "-0.0090", "color": "#ffffff", "font": "Roboto", "fontSize": 21, "dx": -62, "align": "center", "baseline": "middle"},
          "encoding": {
            "x": {"datum": {"year": 2023, "month": 6, "date": 14, "hours": 1}},
            "y": {"datum": 0.622}
          }
        },
        {
          "mark": {"type": "rect", "fill": "#c0c0c0", "cornerRadius": 6, "xOffset": 9, "x2Offset": 93, "yOffset": -22, "y2Offset": 22},
          "encoding": {
            "x": {"datum": {"year": 2023, "month": 12, "date": 10, "hours": 17}},
            "x2": {"datum": {"year": 2023, "month": 12, "date": 10, "hours": 17}},
            "y": {"datum": 0.622}, "y2": {"datum": 0.622}
          }
        },
        {
          "mark": {"type": "text", "text": "0.622", "color": "#ffffff", "font": "Roboto", "fontSize": 22, "dx": 51, "align": "center", "baseline": "middle"},
          "encoding": {
            "x": {"datum": {"year": 2023, "month": 12, "date": 10, "hours": 17}},
            "y": {"datum": 0.622}
          }
        },
        {
          "mark": {"type": "rect", "fill": "#e9edf8", "clip": false, "x2Offset": 6},
          "encoding": {
            "x": {"datum": {"year": 2023, "month": 6, "date": 14, "hours": 1}},
            "x2": {"datum": {"year": 2023, "month": 12, "date": 10, "hours": 17}},
            "y": {"datum": 0.367}, "y2": {"datum": 0.25}
          }
        },
        {
          "transform": [{"filter": {"field": "t", "equal": {"year": 2023, "month": 12, "date": 9, "hours": 9}}}],
          "mark": {"type": "rect", "fill": "#000000", "cornerRadius": 3, "xOffset": -107, "x2Offset": 107, "yOffset": 7, "y2Offset": 46},
          "encoding": {
            "x": {"field": "t", "type": "temporal"}, "x2": {"field": "t"},
            "y": {"datum": 0.4156}, "y2": {"datum": 0.4156}
          }
        },
        {
          "transform": [{"filter": {"field": "t", "equal": {"year": 2023, "month": 12, "date": 9, "hours": 9}}}],
          "mark": {"type": "text", "color": "#ffffff", "font": "Roboto", "fontSize": 22, "dy": 27, "align": "center", "baseline": "middle"},
          "encoding": {
            "x": {"field": "t", "type": "temporal"},
            "y": {"datum": 0.4156},
            "text": {"field": "t", "type": "temporal", "format": "%-d %b %Y, %H:%M"}
          }
        },
        {
          "transform": [{"filter": {"field": "t", "equal": {"year": 2023, "month": 12, "date": 9, "hours": 9}}}],
          "mark": {"type": "rect", "fill": "#000000", "opacity": 0.012, "cornerRadius": 78, "xOffset": -517, "x2Offset": 25, "yOffset": -12, "y2Offset": 325},
          "encoding": {"x": {"field": "t", "type": "temporal"}, "x2": {"field": "t"}, "y": {"datum": 0.622}, "y2": {"datum": 0.622}}
        },
        {
          "transform": [{"filter": {"field": "t", "equal": {"year": 2023, "month": 12, "date": 9, "hours": 9}}}],
          "mark": {"type": "rect", "fill": "#000000", "opacity": 0.012, "cornerRadius": 70, "xOffset": -509, "x2Offset": 17, "yOffset": -4, "y2Offset": 317},
          "encoding": {"x": {"field": "t", "type": "temporal"}, "x2": {"field": "t"}, "y": {"datum": 0.622}, "y2": {"datum": 0.622}}
        },
        {
          "transform": [{"filter": {"field": "t", "equal": {"year": 2023, "month": 12, "date": 9, "hours": 9}}}],
          "mark": {"type": "rect", "fill": "#000000", "opacity": 0.013, "cornerRadius": 62, "xOffset": -501, "x2Offset": 9, "yOffset": 4, "y2Offset": 309},
          "encoding": {"x": {"field": "t", "type": "temporal"}, "x2": {"field": "t"}, "y": {"datum": 0.622}, "y2": {"datum": 0.622}}
        },
        {
          "transform": [{"filter": {"field": "t", "equal": {"year": 2023, "month": 12, "date": 9, "hours": 9}}}],
          "mark": {"type": "rect", "fill": "#000000", "opacity": 0.014, "cornerRadius": 54, "xOffset": -493, "x2Offset": 1, "yOffset": 12, "y2Offset": 301},
          "encoding": {"x": {"field": "t", "type": "temporal"}, "x2": {"field": "t"}, "y": {"datum": 0.622}, "y2": {"datum": 0.622}}
        },
        {
          "transform": [{"filter": {"field": "t", "equal": {"year": 2023, "month": 12, "date": 9, "hours": 9}}}],
          "mark": {"type": "rect", "fill": "#000000", "opacity": 0.015, "cornerRadius": 46, "xOffset": -485, "x2Offset": -7, "yOffset": 20, "y2Offset": 293},
          "encoding": {"x": {"field": "t", "type": "temporal"}, "x2": {"field": "t"}, "y": {"datum": 0.622}, "y2": {"datum": 0.622}}
        },
        {
          "transform": [{"filter": {"field": "t", "equal": {"year": 2023, "month": 12, "date": 9, "hours": 9}}}],
          "mark": {"type": "rect", "fill": "#000000", "opacity": 0.016, "cornerRadius": 38, "xOffset": -477, "x2Offset": -15, "yOffset": 28, "y2Offset": 285},
          "encoding": {"x": {"field": "t", "type": "temporal"}, "x2": {"field": "t"}, "y": {"datum": 0.622}, "y2": {"datum": 0.622}}
        },
        {
          "transform": [{"filter": {"field": "t", "equal": {"year": 2023, "month": 12, "date": 9, "hours": 9}}}],
          "mark": {"type": "rect", "fill": "#000000", "opacity": 0.018, "cornerRadius": 30, "xOffset": -469, "x2Offset": -23, "yOffset": 36, "y2Offset": 277},
          "encoding": {"x": {"field": "t", "type": "temporal"}, "x2": {"field": "t"}, "y": {"datum": 0.622}, "y2": {"datum": 0.622}}
        },
        {
          "transform": [{"filter": {"field": "t", "equal": {"year": 2023, "month": 12, "date": 9, "hours": 9}}}],
          "mark": {"type": "rect", "fill": "#000000", "opacity": 0.02, "cornerRadius": 22, "xOffset": -461, "x2Offset": -31, "yOffset": 42, "y2Offset": 267},
          "encoding": {"x": {"field": "t", "type": "temporal"}, "x2": {"field": "t"}, "y": {"datum": 0.622}, "y2": {"datum": 0.622}}
        },
        {
          "transform": [{"filter": {"field": "t", "equal": {"year": 2023, "month": 12, "date": 9, "hours": 9}}}],
          "mark": {"type": "rect", "fill": "#f4f5f7", "stroke": "#e4e6ea", "strokeWidth": 1, "cornerRadius": 14, "xOffset": -453, "x2Offset": -39, "yOffset": 44, "y2Offset": 253},
          "encoding": {"x": {"field": "t", "type": "temporal"}, "x2": {"field": "t"}, "y": {"datum": 0.622}, "y2": {"datum": 0.622}}
        },
        {
          "transform": [{"filter": {"field": "t", "equal": {"year": 2023, "month": 12, "date": 9, "hours": 9}}}],
          "mark": {"type": "text", "color": "#111111", "font": "Roboto", "fontSize": 26, "dx": -423, "dy": 94, "align": "left", "baseline": "middle"},
          "encoding": {
            "x": {"field": "t", "type": "temporal"}, "y": {"datum": 0.622},
            "text": {"field": "t", "type": "temporal", "format": "%-d %b %Y, %H:%M"}
          }
        },
        {
          "transform": [{"filter": {"field": "t", "equal": {"year": 2023, "month": 12, "date": 9, "hours": 9}}}],
          "mark": {"type": "circle", "size": 230, "fill": "#e8bd5c", "stroke": "#2b2b2b", "strokeWidth": 3, "opacity": 1, "xOffset": -414, "yOffset": 158},
          "encoding": {"x": {"field": "t", "type": "temporal"}, "y": {"datum": 0.622}}
        },
        {
          "transform": [{"filter": {"field": "t", "equal": {"year": 2023, "month": 12, "date": 9, "hours": 9}}}],
          "mark": {"type": "text", "text": "XRP Price", "color": "#333333", "font": "Roboto", "fontSize": 27, "dx": -395, "dy": 158, "align": "left", "baseline": "middle"},
          "encoding": {"x": {"field": "t", "type": "temporal"}, "y": {"datum": 0.622}}
        },
        {
          "transform": [{"filter": {"field": "t", "equal": {"year": 2023, "month": 12, "date": 9, "hours": 9}}}],
          "mark": {"type": "text", "color": "#111111", "font": "Roboto", "fontSize": 27, "dx": -74, "dy": 158, "align": "right", "baseline": "middle"},
          "encoding": {
            "x": {"field": "t", "type": "temporal"}, "y": {"datum": 0.622},
            "text": {"field": "p", "type": "quantitative", "format": "$.2f"}
          }
        },
        {
          "transform": [{"filter": {"field": "t", "equal": {"year": 2023, "month": 12, "date": 9, "hours": 9}}}],
          "mark": {"type": "circle", "size": 230, "fill": "#4aa888", "stroke": "#2b2b2b", "strokeWidth": 3, "opacity": 1, "xOffset": -414, "yOffset": 202},
          "encoding": {"x": {"field": "t", "type": "temporal"}, "y": {"datum": 0.622}}
        },
        {
          "transform": [{"filter": {"field": "t", "equal": {"year": 2023, "month": 12, "date": 9, "hours": 9}}}],
          "mark": {"type": "text", "text": "OI-Weighted", "color": "#333333", "font": "Roboto", "fontSize": 27, "dx": -395, "dy": 202, "align": "left", "baseline": "middle"},
          "encoding": {"x": {"field": "t", "type": "temporal"}, "y": {"datum": 0.622}}
        },
        {
          "transform": [{"filter": {"field": "t", "equal": {"year": 2023, "month": 12, "date": 9, "hours": 9}}}],
          "mark": {"type": "text", "text": {"expr": "format(datum.f, '.4f') + '%'"}, "color": "#111111", "font": "Roboto", "fontSize": 27, "dx": -74, "dy": 202, "align": "right", "baseline": "middle"},
          "encoding": {"x": {"field": "t", "type": "temporal"}, "y": {"datum": 0.622}}
        }
      ]
    }
  ],
  "resolve": {"scale": {"y": "independent"}, "axis": {"y": "independent"}}
}
